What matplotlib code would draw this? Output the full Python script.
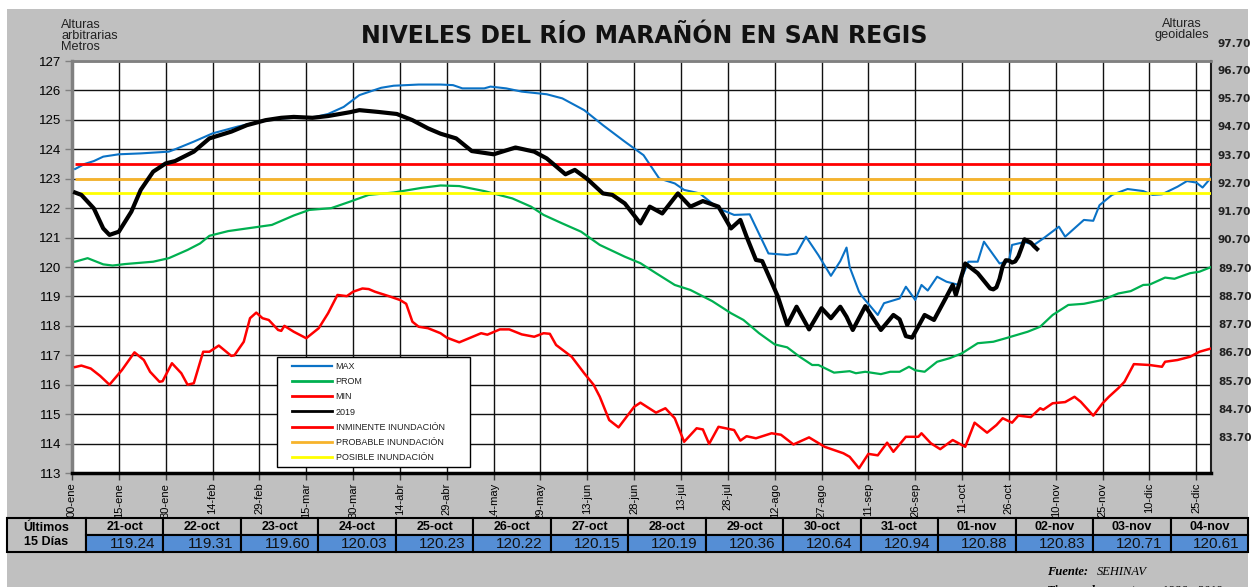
import matplotlib
matplotlib.use('Agg')
import matplotlib.pyplot as plt
from matplotlib.patches import Rectangle
from matplotlib.lines import Line2D
from matplotlib.legend_handler import HandlerLine2D

plt.rcParams['font.family'] = ['Liberation Sans', 'DejaVu Sans']

# ---------------- data ----------------
TITLE = "NIVELES DEL RÍO MARAÑÓN EN SAN REGIS"
x_tick_days = list(range(0, 361, 15))
x_tick_labels = ['00-ene', '15-ene', '30-ene', '14-feb', '29-feb', '15-mar', '30-mar',
                 '14-abr', '29-abr', '14-may', '29-may', '13-jun', '28-jun', '13-jul',
                 '28-jul', '12-ago', '27-ago', '11-sep', '26-sep', '11-oct', '26-oct',
                 '10-nov', '25-nov', '10-dic', '25-dic']
left_ticks = list(range(113, 128))
right_ticks = [83.70, 84.70, 85.70, 86.70, 87.70, 88.70, 89.70, 90.70, 91.70,
               92.70, 93.70, 94.70, 95.70, 96.70]
right_top_label = 97.70

INMINENTE = 123.5
PROBABLE = 123.0
POSIBLE = 122.5

max_days = [1, 4, 7, 10, 15, 22, 28, 31, 33, 39, 45, 53, 60, 67, 73, 78, 82, 87, 92, 99, 103,
            111, 118, 122, 125, 132, 134, 139, 144, 152, 157, 164, 170, 177, 183, 188, 193,
            196, 201, 207, 212, 217, 223, 229, 232, 235, 239, 243, 246, 248, 249, 252, 253,
            258, 260, 265, 267, 270, 272, 274, 277, 280, 284, 287, 290, 292, 297, 300, 301,
            305, 308, 311, 316, 318, 324, 327, 329, 333, 338, 343, 346, 349, 354, 357, 360,
            362, 365]
max_vals = [123.33, 123.5, 123.6, 123.75, 123.83, 123.86, 123.9, 123.92, 124.0, 124.26,
            124.54, 124.77, 124.94, 125.05, 125.08, 125.1, 125.2, 125.44, 125.84, 126.09,
            126.16, 126.2, 126.2, 126.18, 126.07, 126.07, 126.13, 126.07, 125.96, 125.87,
            125.73, 125.33, 124.82, 124.26, 123.8, 123.01, 122.84, 122.62, 122.5, 121.99,
            121.77, 121.79, 120.46, 120.41, 120.46, 121.03, 120.4, 119.7, 120.2, 120.66,
            120.0, 119.16, 119.0, 118.37, 118.77, 118.93, 119.33, 118.88, 119.39, 119.2,
            119.67, 119.5, 119.39, 120.18, 120.18, 120.86, 120.12, 120.2, 120.75, 120.85,
            120.75, 120.97, 121.37, 121.03, 121.6, 121.57, 122.1, 122.45, 122.65, 122.58,
            122.45, 122.47, 122.73, 122.92, 122.87, 122.7, 123.07]

prom_days = [1, 5, 10, 13, 17, 26, 31, 37, 41, 44, 50, 56, 64, 71, 76, 83, 89, 95, 103, 112,
             118, 124, 132, 141, 147, 151, 157, 163, 169, 177, 182, 187, 193, 198, 205, 211,
             215, 220, 225, 229, 233, 237, 239, 244, 249, 251, 254, 259, 262, 265, 268, 270,
             273, 277, 281, 285, 290, 295, 299, 306, 310, 314, 319, 324, 330, 335, 339, 343,
             345, 350, 353, 358, 361, 365]
prom_vals = [120.18, 120.3, 120.09, 120.05, 120.1, 120.18, 120.3, 120.58, 120.8, 121.06,
             121.22, 121.31, 121.43, 121.75, 121.94, 122.0, 122.22, 122.45, 122.53, 122.69,
             122.77, 122.75, 122.58, 122.33, 122.05, 121.77, 121.48, 121.2, 120.75, 120.35,
             120.13, 119.79, 119.39, 119.22, 118.84, 118.43, 118.2, 117.75, 117.37, 117.27,
             116.95, 116.67, 116.67, 116.41, 116.46, 116.39, 116.44, 116.36, 116.44, 116.44,
             116.61, 116.49, 116.44, 116.78, 116.9, 117.07, 117.41, 117.46, 117.58, 117.8,
             117.97, 118.37, 118.71, 118.75, 118.88, 119.1, 119.18, 119.39, 119.4, 119.64,
             119.6, 119.79, 119.84, 120.01]

min_days = [1, 3, 6, 9, 12, 16, 20, 23, 25, 28, 29, 32, 35, 37, 39, 42, 44, 47, 51, 52, 55, 57,
            59, 61, 63, 66, 67, 68, 71, 75, 79, 82, 85, 88, 90, 93, 95, 97, 102, 105, 107, 109,
            111, 114, 118, 120, 124, 131, 133, 137, 140, 144, 148, 151, 153, 155, 160, 164,
            167, 169, 172, 175, 180, 182, 187, 190, 193, 196, 200, 202, 204, 207, 212, 214,
            216, 219, 224, 227, 231, 236, 241, 244, 247, 249, 252, 255, 258, 261, 263, 267,
            271, 272, 275, 278, 282, 286, 289, 293, 296, 298, 301, 303, 307, 310, 311, 314,
            318, 321, 323, 327, 330, 332, 335, 337, 340, 345, 349, 350, 354, 358, 361, 365]
min_vals = [116.6, 116.65, 116.55, 116.3, 116.0, 116.5, 117.1, 116.84, 116.44, 116.1, 116.12,
            116.73, 116.39, 116.0, 116.05, 117.12, 117.12, 117.33, 116.98, 117.0, 117.46,
            118.26, 118.45, 118.26, 118.2, 117.86, 117.83, 118.0, 117.8, 117.58, 117.92,
            118.43, 119.05, 119.01, 119.16, 119.27, 119.25, 119.16, 118.99, 118.88, 118.75,
            118.14, 117.97, 117.92, 117.75, 117.6, 117.44, 117.75, 117.7, 117.88, 117.88,
            117.71, 117.63, 117.75, 117.73, 117.35, 116.95, 116.39, 116.0, 115.59, 114.8,
            114.55, 115.25, 115.39, 115.05, 115.2, 114.86, 114.06, 114.52, 114.48, 113.99,
            114.57, 114.46, 114.1, 114.25, 114.18, 114.35, 114.3, 113.97, 114.21, 113.89,
            113.78, 113.67, 113.55, 113.16, 113.65, 113.6, 114.03, 113.72, 114.23, 114.23,
            114.35, 114.01, 113.81, 114.12, 113.89, 114.71, 114.37, 114.63, 114.86, 114.71,
            114.95, 114.9, 115.2, 115.15, 115.37, 115.41, 115.59, 115.42, 114.95, 115.37,
            115.59, 115.88, 116.1, 116.7, 116.67, 116.61, 116.78, 116.84, 116.95, 117.12,
            117.24]

y2019_days = [1, 3, 7, 10, 12, 15, 19, 22, 26, 30, 33, 39, 44, 51, 56, 62, 67, 71, 77, 82, 89,
              92, 98, 104, 109, 114, 118, 123, 128, 135, 142, 148, 152, 158, 161, 165, 170,
              173, 177, 182, 185, 189, 194, 198, 202, 207, 211, 214, 216, 219, 221, 226, 229,
              232, 236, 240, 243, 246, 248, 250, 254, 259, 263, 265, 267, 269, 273, 276, 280,
              282, 283, 286, 290, 294, 295, 296, 297, 298, 299, 300, 301, 302, 303, 304, 305,
              306, 307, 308, 309]
y2019_vals = [122.53, 122.45, 121.99, 121.31, 121.09, 121.2, 121.88, 122.62, 123.24, 123.52,
              123.6, 123.92, 124.37, 124.6, 124.82, 124.99, 125.07, 125.1, 125.07, 125.13,
              125.26, 125.33, 125.27, 125.2, 124.99, 124.71, 124.53, 124.37, 123.94, 123.83,
              124.06, 123.92, 123.69, 123.15, 123.3, 122.99, 122.5, 122.45, 122.16, 121.48,
              122.05, 121.82, 122.5, 122.05, 122.24, 122.05, 121.31, 121.6, 121.03, 120.24,
              120.2, 119.0, 118.03, 118.65, 117.88, 118.6, 118.26, 118.65, 118.31, 117.86,
              118.67, 117.86, 118.37, 118.22, 117.65, 117.6, 118.37, 118.2, 118.99, 119.39,
              119.05, 120.12, 119.79, 119.27, 119.24, 119.31, 119.60, 120.03, 120.23, 120.22,
              120.15, 120.19, 120.36, 120.64, 120.94, 120.88, 120.83, 120.71, 120.61]

table_dates = ['21-oct', '22-oct', '23-oct', '24-oct', '25-oct', '26-oct', '27-oct', '28-oct',
               '29-oct', '30-oct', '31-oct', '01-nov', '02-nov', '03-nov', '04-nov']
table_vals = [119.24, 119.31, 119.60, 120.03, 120.23, 120.22, 120.15, 120.19, 120.36, 120.64,
              120.94, 120.88, 120.83, 120.71, 120.61]

# ---------------- figure ----------------
W, H = 1256, 587
fig = plt.figure(figsize=(W / 100, H / 100), dpi=100, facecolor='white')


def fx(x):
    return x / W


def fy(y):
    return 1 - y / H


fig.add_artist(Rectangle((fx(7), 0), fx(1248) - fx(7), fy(9), transform=fig.transFigure,
                         facecolor='#C0C0C0', edgecolor='none', zorder=-10))

ax = fig.add_axes([fx(72), fy(473), fx(1211) - fx(72), fy(61) - fy(473)])
ax.set_facecolor('white')
ax.set_xlim(0, 364.7)
ax.set_ylim(113, 127)
ax.set_xticks(x_tick_days)
ax.set_xticklabels(x_tick_labels, rotation=90, fontsize=8)
ax.set_yticks(left_ticks)
ax.set_yticklabels([str(v) for v in left_ticks], fontsize=9.5)
ax.tick_params(axis='x', length=5, width=1, color='#404040', pad=2)
ax.tick_params(axis='y', length=5, width=1, color='#808080', pad=3)
ax.grid(True, color='#111111', lw=1.0)
ax.set_axisbelow(True)
for side, col, lw in [('left', '#808080', 2.5), ('top', '#808080', 2.0),
                      ('bottom', '#000000', 2.5), ('right', '#202020', 1.5)]:
    ax.spines[side].set_color(col)
    ax.spines[side].set_linewidth(lw)

ax.plot(max_days, max_vals, color='#0A72C6', lw=1.5, zorder=4)
ax.plot(prom_days, prom_vals, color='#00B050', lw=1.6, zorder=4)
ax.plot(min_days, min_vals, color='#FF0000', lw=1.8, zorder=4)
ax.plot(y2019_days, y2019_vals, color='black', lw=3.0, zorder=6)
ax.hlines(INMINENTE, 1, 364.7, color='#FF0000', lw=2.0, zorder=5)
ax.hlines(PROBABLE, 1, 364.7, color='#F7B32B', lw=2.0, zorder=5)
ax.hlines(POSIBLE, 1, 364.7, color='#FFFF00', lw=2.0, zorder=5)


class ShiftedLine(HandlerLine2D):
    """Legend line sample drawn with an extra left gap, as in the original legend."""
    gap = 7.5

    def create_artists(self, legend, orig_handle, xdescent, ydescent, width, height,
                       fontsize, trans):
        return super().create_artists(legend, orig_handle, xdescent - self.gap, ydescent,
                                      width - self.gap, height, fontsize, trans)


handles = [Line2D([], [], color='#0A72C6', lw=1.6),
           Line2D([], [], color='#00B050', lw=2.0),
           Line2D([], [], color='#FF0000', lw=2.0),
           Line2D([], [], color='black', lw=2.0),
           Line2D([], [], color='#FF0000', lw=2.0),
           Line2D([], [], color='#F7B32B', lw=2.0),
           Line2D([], [], color='#FFFF00', lw=2.0)]
labels = ['MAX', 'PROM', 'MIN', '2019', 'INMINENTE INUNDACIÓN', 'PROBABLE INUNDACIÓN',
          'POSIBLE INUNDACIÓN']
leg = ax.legend(handles, labels, loc='lower left',
                bbox_to_anchor=((277 - 72) / 1139, 6 / 412, 193 / 1139, 110 / 412),
                mode='expand', fontsize=6.5, labelspacing=0.68, handlelength=5.5,
                handletextpad=0.45, borderpad=0.55, borderaxespad=0, fancybox=False,
                framealpha=1, edgecolor='black',
                handler_map={Line2D: ShiftedLine()})
leg.get_frame().set_linewidth(1.0)
leg.set_zorder(10)
for t in leg.get_texts():
    t.set_color('#202020')

# secondary axis labels
ax2 = ax.twinx()
ax2.set_ylim(82.425, 97.019)
ax2.set_yticks(right_ticks)
ax2.set_yticklabels([f"{v:.2f}" for v in right_ticks], fontsize=7.6, fontweight='bold',
                    family='DejaVu Sans', color='#222222')
ax2.tick_params(axis='y', length=0, pad=5)
for s in ax2.spines.values():
    s.set_visible(False)
ax2.text(1.0 + 6 / 1139, right_top_label - 0.08, f"{right_top_label:.2f}",
         transform=ax2.get_yaxis_transform(), fontsize=7.6, fontweight='bold',
         family='DejaVu Sans', color='#222222', ha='left', va='center', clip_on=False)

# titles and headers
fig.text(fx(644), fy(36), TITLE, fontsize=17, fontweight='bold', ha='center', va='center',
         color='#111111', family='DejaVu Sans')
fig.text(fx(61), fy(19), "Alturas\narbitrarias\nMetros", fontsize=9.2, ha='left', va='top',
         linespacing=0.9, color='#222222')
fig.text(fx(1182), fy(18), "Alturas\ngeoidales", fontsize=9.2, ha='center', va='top',
         linespacing=0.9, color='#222222')

# ---------------- table ----------------
t_top, t_mid, t_bot = 518, 535, 552
c0, c1, c_end = 7, 86, 1248
cw = (c_end - c1) / len(table_dates)
fig.add_artist(Rectangle((fx(c0), fy(t_bot)), fx(c1) - fx(c0), fy(t_top) - fy(t_bot),
                         transform=fig.transFigure, facecolor='#C0C0C0', edgecolor='black',
                         lw=1.5, zorder=2))
fig.text(fx((c0 + c1) / 2), fy(528), "Últimos", fontsize=9, fontweight='bold', ha='center',
         va='center', zorder=4)
fig.text(fx((c0 + c1) / 2), fy(542), "15 Días", fontsize=9, fontweight='bold', ha='center',
         va='center', zorder=4)
for i, (d, v) in enumerate(zip(table_dates, table_vals)):
    xl = c1 + i * cw
    fig.add_artist(Rectangle((fx(xl), fy(t_mid)), fx(cw), fy(t_top) - fy(t_mid),
                             transform=fig.transFigure, facecolor='#C0C0C0',
                             edgecolor='black', lw=1.5, zorder=2))
    fig.add_artist(Rectangle((fx(xl), fy(t_bot)), fx(cw), fy(t_mid) - fy(t_bot),
                             transform=fig.transFigure, facecolor='#558ED5',
                             edgecolor='black', lw=1.5, zorder=2))
    fig.text(fx(xl + cw / 2), fy((t_top + t_mid) / 2), d, fontsize=9, fontweight='bold',
             ha='center', va='center', zorder=3)
    fig.text(fx(xl + cw - 8), fy((t_mid + t_bot) / 2 + 0.5), f"{v:.2f}", fontsize=11,
             ha='right', va='center', zorder=3, color='#111111')

# ---------------- footer ----------------
fig.text(fx(1047), fy(572), "Fuente:", family='Liberation Serif', fontsize=9,
         fontweight='bold', style='italic', ha='left', va='center')
fig.text(fx(1097), fy(572), "SEHINAV", family='Liberation Serif', fontsize=9,
         style='italic', ha='left', va='center')
fig.text(fx(1047), fy(591), "Tiempo de reporte:", family='Liberation Serif', fontsize=9,
         fontweight='bold', style='italic', ha='left', va='center')
fig.text(fx(1162), fy(591), "1986 - 2019", family='Liberation Serif', fontsize=9,
         style='italic', ha='left', va='center')

fig.savefig('out.png', dpi=100, facecolor='white')
